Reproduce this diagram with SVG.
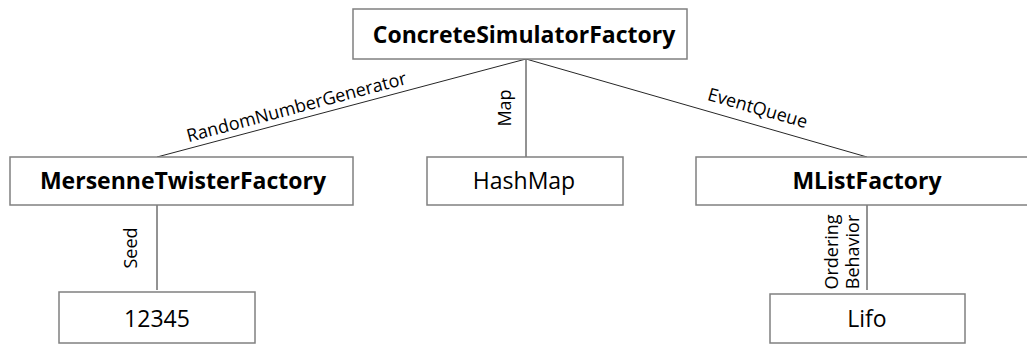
<svg xmlns="http://www.w3.org/2000/svg" width="1027" height="345" viewBox="0 0 1027 345">
  <style>
    .box { fill: #ffffff; stroke: #808080; stroke-width: 1.5; }
    .edge { stroke: #262626; stroke-width: 1; fill: none; }
    .name { font-family: "Open Sans", "Noto Sans", sans-serif; font-size: 23px; fill: #000; text-anchor: middle; }
    .bold { font-weight: bold; }
    .lbl { font-family: "Open Sans", "Noto Sans", sans-serif; font-size: 18px; fill: #000; text-anchor: middle; }
  </style>
  <rect width="1027" height="345" fill="#ffffff"/>

  <!-- connectors and their role labels -->
  <g id="connectors">
    <line class="edge" x1="526" y1="59" x2="157" y2="157"/>
    <line class="edge" x1="526" y1="59" x2="526" y2="157"/>
    <line class="edge" x1="526" y1="59" x2="867" y2="157"/>
    <line class="edge" x1="157" y1="205" x2="157" y2="290"/>
    <line class="edge" x1="867" y1="205" x2="867" y2="290"/>
    <text class="lbl" transform="translate(298,113) rotate(-14.9)">RandomNumberGenerator</text>
    <text class="lbl" transform="translate(511,108) rotate(-90)">Map</text>
    <text class="lbl" transform="translate(756,114) rotate(16)">EventQueue</text>
    <text class="lbl" transform="translate(137,248) rotate(-90)">Seed</text>
    <text class="lbl" transform="translate(838,252) rotate(-90)">Ordering</text>
    <text class="lbl" transform="translate(859,252) rotate(-90)">Behavior</text>
  </g>

  <g id="ConcreteSimulatorFactory">
    <rect class="box" x="353" y="9" width="334" height="50"/>
    <text class="name bold" x="524" y="43">ConcreteSimulatorFactory</text>
  </g>
  <g id="MersenneTwisterFactory">
    <rect class="box" x="10" y="157" width="343" height="48"/>
    <text class="name bold" x="183" y="189">MersenneTwisterFactory</text>
  </g>
  <g id="HashMap">
    <rect class="box" x="427" y="157" width="196" height="48"/>
    <text class="name" x="524" y="189">HashMap</text>
  </g>
  <g id="MListFactory">
    <rect class="box" x="696" y="157" width="342" height="48"/>
    <text class="name bold" x="867" y="189">MListFactory</text>
  </g>
  <g id="Seed12345">
    <rect class="box" x="59" y="292" width="196" height="51"/>
    <text class="name" x="157" y="327">12345</text>
  </g>
  <g id="Lifo">
    <rect class="box" x="770" y="294" width="195" height="49"/>
    <text class="name" x="867" y="327">Lifo</text>
  </g>
</svg>
